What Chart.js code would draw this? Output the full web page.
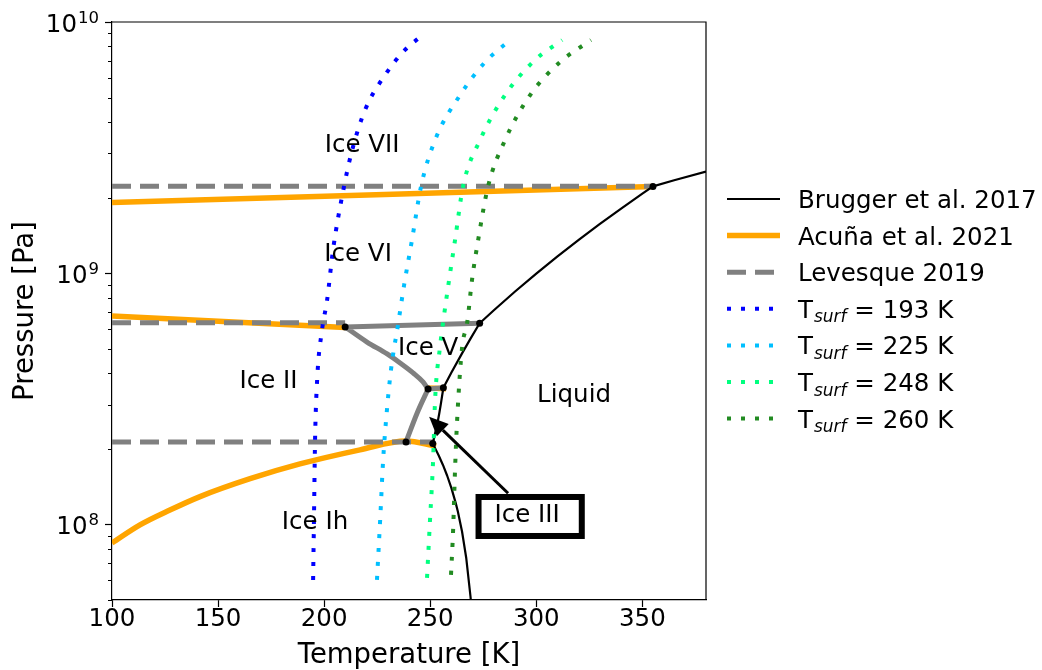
<!DOCTYPE html>
<html>
<head>
<meta charset="utf-8">
<script src="https://cdn.jsdelivr.net/npm/chart.js@4.4.1/dist/chart.umd.min.js"></script>
<style>
  html, body { margin: 0; padding: 0; background: #ffffff; }
  #wrap { width: 1042px; height: 670px; }
</style>
</head>
<body>
<div id="wrap"><canvas id="phase" width="1042" height="670"></canvas></div>
<script>
const FONT_FAMILY = '"DejaVu Sans", "Liberation Sans", sans-serif';
const TEXT_PX = 24.5;

// Axis ranges and ticks
const tempRange = [100, 380];
const pressureRange = [5e7, 1e10];
const temperatureTicks = [100, 150, 200, 250, 300, 350];
const pressureDecades = [8, 9, 10];

// Brugger et al. 2017 melting curve (Ih -> III -> V -> VI -> VII), T [K], P [Pa]
const bruggerT = [269.3, 269.0, 267.0, 265.0, 263.0, 262.0, 260.0, 258.0, 256.0, 254.0, 252.0, 251.2,
                  253.5, 254.3, 255.0, 256.2, 260.0, 265.0, 269.0, 273.3,
                  280.0, 290.0, 300.0, 310.0, 320.0, 330.0, 340.0, 350.0, 355.0, 365.0, 380.0];
const bruggerP = [4.82e7, 5.15e7, 7.33e7, 9.37e7, 1.127e8, 1.218e8, 1.394e8, 1.562e8, 1.724e8, 1.881e8, 2.035e8, 2.10e8,
                  2.55e8, 2.777e8, 3.013e8, 3.50e8, 4.026e8, 4.796e8, 5.49e8, 6.32e8,
                  7.124e8, 8.454e8, 9.96e8, 1.166e9, 1.357e9, 1.570e9, 1.809e9, 2.073e9, 2.216e9, 2.343e9, 2.54e9];

// Acuña et al. 2021 boundaries
const acunaVII_T = [100, 355.0];
const acunaVII_P = [1.91e9, 2.216e9];
const acunaVI_T = [100, 209.9];
const acunaVI_P = [6.76e8, 6.08e8];
const acunaIh_T = [100, 113.2, 127.3, 141.5, 165.1, 188.6, 216.9, 238.6, 252.8];
const acunaIh_P = [8.43e7, 9.95e7, 1.14e8, 1.29e8, 1.52e8, 1.74e8, 1.98e8, 2.15e8, 2.05e8];
const acunaV_T = [247.5, 257.5];
const acunaV_P = [3.49e8, 3.47e8];

// Levesque 2019 boundaries
const levesqueVII_T = [100, 355.0];
const levesqueVII_P = [2.22e9, 2.22e9];
const levesqueVI_T = [100, 209.9];
const levesqueVI_P = [6.35e8, 6.35e8];
const levesqueIh_T = [100, 252.0];
const levesqueIh_P = [2.13e8, 2.13e8];

// Solid-solid boundaries between ices II, III, V, VI
const boundVI_T = [209.9, 273.3];
const boundVI_P = [6.11e8, 6.32e8];
const boundIIV_T = [209.9, 220.2, 229.7, 235.8, 241.9, 246.6, 249.0];
const boundIIV_P = [6.11e8, 5.32e8, 4.77e8, 4.39e8, 4.01e8, 3.69e8, 3.46e8];
const boundIIIV_T = [249.0, 256.2];
const boundIIIV_P = [3.46e8, 3.50e8];
const boundIIIII_T = [238.6, 243.8, 249.0];
const boundIIIII_P = [2.13e8, 2.77e8, 3.46e8];

// Triple points
const tripleT = [209.9, 273.3, 249.0, 256.2, 238.6, 251.2, 355.0];
const tripleP = [6.11e8, 6.32e8, 3.46e8, 3.50e8, 2.13e8, 2.10e8, 2.216e9];

// Interior temperature profiles for several surface temperatures
const profile193T = [194.8, 195.2, 195.7, 196.7, 199.0, 201.4, 204.2, 209.4, 213.2, 219.3, 228.7, 238.1, 245.2];
const profile193P = [6.01e7, 1.04e8, 2.13e8, 3.76e8, 5.94e8, 7.82e8, 1.24e9, 2.22e9, 3.09e9, 4.47e9, 6.15e9, 7.74e9, 8.71e9];
const profile225T = [224.9, 226.4, 227.8, 229.2, 231.5, 234.8, 237.7, 241.4, 245.7, 252.3, 264.1, 275.9, 287.6];
const profile225P = [6.01e7, 1.04e8, 1.80e8, 2.61e8, 4.12e8, 6.22e8, 8.97e8, 1.355e9, 2.22e9, 3.39e9, 5.12e9, 6.93e9, 8.47e9];
const profile248T = [248.5, 249.9, 251.3, 252.3, 254.6, 256.1, 258.9, 261.7, 265.5, 273.5, 285.3, 299.4, 312.2];
const profile248P = [6.12e7, 1.04e8, 1.75e8, 3.13e8, 5.08e8, 6.40e8, 9.40e8, 1.355e9, 2.22e9, 3.39e9, 5.12e9, 7.06e9, 8.47e9];
const profile260T = [259.8, 260.8, 261.7, 262.7, 265.0, 267.4, 269.7, 272.6, 277.3, 285.3, 297.1, 311.2, 325.8];
const profile260P = [6.30e7, 9.51e7, 1.65e8, 2.61e8, 5.04e8, 6.34e8, 9.40e8, 1.355e9, 2.22e9, 3.39e9, 5.12e9, 6.93e9, 8.47e9];

// Phase labels
const phaseNames = ['Ice VII', 'Ice VI', 'Ice V', 'Ice II', 'Ice Ih', 'Liquid'];
const phaseT = [217.9, 216.0, 249.0, 173.8, 195.7, 317.8];
const phaseP = [3.21e9, 1.18e9, 5.00e8, 3.69e8, 1.02e8, 3.24e8];

// Ice III callout: label position and arrow target
const calloutText = 'Ice III';
const calloutT = 295.7, calloutP = 1.08e8;
const calloutTipT = 249.5, calloutTipP = 2.68e8;
const calloutTailT = 286.7, calloutTailP = 1.33e8;

const pts = (T, P) => T.map((t, i) => ({ x: t, y: P[i] }));
const joinSegments = (...segs) => segs.flatMap((s, i) => (i ? [{ x: null, y: null }, ...s] : s));

const lineBase = { showLine: true, pointRadius: 0, pointHoverRadius: 0, fill: false, tension: 0,
                   borderCapStyle: 'butt', borderJoinStyle: 'round', spanGaps: false };
const smooth = { cubicInterpolationMode: 'monotone' };
const dotted = { borderWidth: 4, borderDash: [4, 10] };

const datasets = [
  { ...lineBase, label: 'Brugger et al. 2017', legend: true, order: 3,
    data: pts(bruggerT, bruggerP), borderColor: '#000000', borderWidth: 2.2 },
  { ...lineBase, ...smooth, label: 'Acuña et al. 2021', legend: true, order: 7,
    data: joinSegments(pts(acunaVII_T, acunaVII_P), pts(acunaVI_T, acunaVI_P), pts(acunaIh_T, acunaIh_P), pts(acunaV_T, acunaV_P)),
    borderColor: '#FFA500', borderWidth: 5.5 },
  { ...lineBase, label: 'Levesque 2019', legend: true, order: 6,
    data: joinSegments(pts(levesqueVII_T, levesqueVII_P), pts(levesqueVI_T, levesqueVI_P), pts(levesqueIh_T, levesqueIh_P)),
    borderColor: '#808080', borderWidth: 5, borderDash: [19, 9] },
  { ...lineBase, ...smooth, ...dotted, label: 'T_{surf} = 193 K', legend: true, order: 2,
    data: pts(profile193T, profile193P), borderColor: '#0000FF' },
  { ...lineBase, ...smooth, ...dotted, label: 'T_{surf} = 225 K', legend: true, order: 2,
    data: pts(profile225T, profile225P), borderColor: '#00BFFF' },
  { ...lineBase, ...smooth, ...dotted, label: 'T_{surf} = 248 K', legend: true, order: 2,
    data: pts(profile248T, profile248P), borderColor: '#00FF7F' },
  { ...lineBase, ...smooth, ...dotted, label: 'T_{surf} = 260 K', legend: true, order: 2,
    data: pts(profile260T, profile260P), borderColor: '#228B22' },
  { ...lineBase, ...smooth, label: 'ice boundaries', legend: false, order: 5,
    data: joinSegments(pts(boundVI_T, boundVI_P), pts(boundIIV_T, boundIIV_P), pts(boundIIIV_T, boundIIIV_P), pts(boundIIIII_T, boundIIIII_P)),
    borderColor: '#808080', borderWidth: 5 },
  { label: 'triple points', legend: false, order: 1, showLine: false,
    data: pts(tripleT, tripleP), pointRadius: 3.5, pointHoverRadius: 3.5,
    pointBackgroundColor: '#000000', pointBorderColor: '#000000', pointBorderWidth: 0 }
];

function drawRichLabel(ctx, text, x, baseline) {
  // "T_{surf}" style subscripts
  const parts = text.split(/(_\{[^}]*\})/).filter(s => s.length);
  let cx = x;
  parts.forEach(p => {
    if (p.startsWith('_{')) {
      const sub = p.slice(2, -1);
      ctx.font = `italic 17px ${FONT_FAMILY}`;
      ctx.fillText(sub, cx + 1, baseline + 4.5);
      cx += ctx.measureText(sub).width + 1;
    } else {
      ctx.font = `${TEXT_PX}px ${FONT_FAMILY}`;
      ctx.fillText(p, cx, baseline);
      cx += ctx.measureText(p).width;
    }
  });
}

const decorPlugin = {
  id: 'phaseDecor',
  afterDatasetsDraw(chart) {
    const { ctx, scales: { x, y } } = chart;
    ctx.save();
    ctx.fillStyle = '#000';
    ctx.font = `${TEXT_PX}px ${FONT_FAMILY}`;
    ctx.textAlign = 'center';
    ctx.textBaseline = 'middle';
    phaseNames.forEach((n, i) => ctx.fillText(n, x.getPixelForValue(phaseT[i]), y.getPixelForValue(phaseP[i])));

    // callout arrow
    const tx = x.getPixelForValue(calloutT), ty = y.getPixelForValue(calloutP);
    const hx = x.getPixelForValue(calloutTipT), hy = y.getPixelForValue(calloutTipP);
    const sx = x.getPixelForValue(calloutTailT), sy = y.getPixelForValue(calloutTailP);
    const ang = Math.atan2(hy - sy, hx - sx);
    const headLen = 19, headHalf = 8.5;
    const bx = hx - headLen * Math.cos(ang), by = hy - headLen * Math.sin(ang);
    ctx.strokeStyle = '#000';
    ctx.lineWidth = 3;
    ctx.beginPath(); ctx.moveTo(sx, sy); ctx.lineTo(bx, by); ctx.stroke();
    ctx.beginPath();
    ctx.moveTo(hx, hy);
    ctx.lineTo(bx + headHalf * Math.sin(ang), by - headHalf * Math.cos(ang));
    ctx.lineTo(bx - headHalf * Math.sin(ang), by + headHalf * Math.cos(ang));
    ctx.closePath(); ctx.fill();

    // callout box
    const w = ctx.measureText(calloutText).width;
    const left = tx - w / 2 - 19, right = tx + w / 2 + 25, top = ty - 22, bottom = ty + 23;
    ctx.fillStyle = '#fff';
    ctx.fillRect(left, top, right - left, bottom - top);
    ctx.lineWidth = 6;
    ctx.strokeStyle = '#000';
    ctx.strokeRect(left + 3, top + 3, right - left - 6, bottom - top - 6);
    ctx.fillStyle = '#000';
    ctx.fillText(calloutText, tx, ty);
    ctx.restore();
  },
  afterDraw(chart) {
    const { ctx, chartArea: a, scales: { y } } = chart;
    ctx.save();
    // top and right spines
    ctx.strokeStyle = '#000';
    ctx.lineWidth = 1.2;
    ctx.beginPath();
    ctx.moveTo(a.left, a.top); ctx.lineTo(a.right, a.top); ctx.lineTo(a.right, a.bottom);
    ctx.stroke();

    // log ticks on the pressure axis
    const [pMin, pMax] = pressureRange;
    for (let n = Math.floor(Math.log10(pMin)); n <= Math.ceil(Math.log10(pMax)); n++) {
      for (let k = 1; k <= 9; k++) {
        const v = k * Math.pow(10, n);
        if (v < pMin * 0.999 || v > pMax * 1.001) continue;
        const py = Math.round(y.getPixelForValue(v)) + 0.5;
        const len = k === 1 ? 7 : 4;
        ctx.lineWidth = k === 1 ? 1.2 : 1;
        ctx.beginPath(); ctx.moveTo(a.left - len, py); ctx.lineTo(a.left, py); ctx.stroke();
      }
    }
    ctx.fillStyle = '#000';
    ctx.textBaseline = 'alphabetic';
    ctx.textAlign = 'left';
    pressureDecades.forEach(d => {
      const py = y.getPixelForValue(Math.pow(10, d));
      ctx.font = `${TEXT_PX}px ${FONT_FAMILY}`;
      const baseW = ctx.measureText('10').width;
      ctx.font = `16.5px ${FONT_FAMILY}`;
      const expW = ctx.measureText(String(d)).width;
      const xEnd = a.left - 13;
      const x0 = xEnd - expW - baseW - 1;
      ctx.font = `${TEXT_PX}px ${FONT_FAMILY}`;
      ctx.fillText('10', x0, py + 9.5);
      ctx.font = `16.5px ${FONT_FAMILY}`;
      ctx.fillText(String(d), x0 + baseW + 1, py + 0.5);
    });

    // legend
    let rowY = 199;
    ctx.textAlign = 'left';
    chart.data.datasets.filter(d => d.legend).forEach(d => {
      ctx.strokeStyle = d.borderColor;
      ctx.lineWidth = d.borderWidth;
      ctx.lineCap = 'butt';
      ctx.setLineDash(d.borderDash || []);
      ctx.beginPath(); ctx.moveTo(727, rowY); ctx.lineTo(780, rowY); ctx.stroke();
      ctx.setLineDash([]);
      ctx.fillStyle = '#000';
      drawRichLabel(ctx, d.label, 798, rowY + 9);
      rowY += 36.6;
    });
    ctx.restore();
  }
};

new Chart(document.getElementById('phase'), {
  type: 'scatter',
  data: { datasets },
  options: {
    responsive: false,
    animation: false,
    devicePixelRatio: 1,
    layout: { padding: { top: 22, right: 336, left: 0, bottom: 0 } },
    plugins: { legend: { display: false }, tooltip: { enabled: false } },
    events: [],
    scales: {
      x: {
        type: 'linear', position: 'bottom', min: tempRange[0], max: tempRange[1],
        afterBuildTicks: s => { s.ticks = temperatureTicks.map(v => ({ value: v })); },
        afterFit: s => { s.height = 70; },
        grid: { display: true, drawOnChartArea: false, drawTicks: true, tickLength: 7, tickWidth: 1.2, tickColor: '#000' },
        border: { display: true, color: '#000', width: 1.2 },
        ticks: { color: '#000', padding: 0, maxRotation: 0, autoSkip: false,
                 font: { family: FONT_FAMILY, size: TEXT_PX, lineHeight: 1 } },
        title: { display: true, text: 'Temperature [K]', color: '#000',
                 font: { family: FONT_FAMILY, size: 27.5, lineHeight: 1 }, padding: { top: 0, bottom: 0.5 } }
      },
      y: {
        type: 'logarithmic', position: 'left', min: pressureRange[0], max: pressureRange[1],
        afterFit: s => { s.width = 112; },
        grid: { display: false },
        border: { display: true, color: '#000', width: 1.2 },
        ticks: { display: false },
        title: { display: true, text: 'Pressure [Pa]', color: '#000',
                 font: { family: FONT_FAMILY, size: 27.5, lineHeight: 1 }, padding: { top: 12, bottom: 0 } }
      }
    }
  },
  plugins: [decorPlugin]
});
</script>
</body>
</html>
